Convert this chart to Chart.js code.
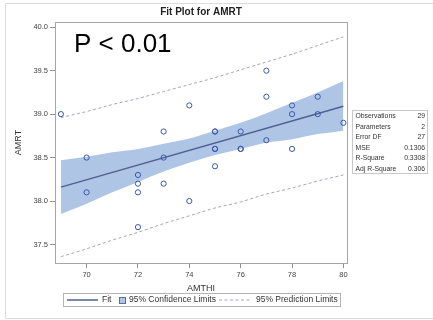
<!DOCTYPE html>
<html><head><meta charset="utf-8">
<script src="https://cdn.jsdelivr.net/npm/chart.js@4/dist/chart.umd.min.js"></script>
<style>html,body{margin:0;padding:0;background:#fff;}canvas{display:block;}</style>
</head><body>
<canvas id="c" width="433" height="320"></canvas>
<script>
// ---- data ----
const amthi = [69,70,70,72,72,72,72,73,73,73,74,74,75,75,75,75,75,76,76,76,77,77,77,78,78,78,79,79,80];
const amrt  = [39.0,38.5,38.1,38.3,38.2,38.1,37.7,38.8,38.5,38.2,39.1,38.0,38.8,38.8,38.6,38.6,38.4,38.8,38.6,38.6,39.5,39.2,38.7,39.1,39.0,38.6,39.2,39.0,38.9];

const fitX = [69, 80];
const fitY = [38.16, 39.09];

const bandX    = [69,70,71,72,73,74,75,76,77,78,79,80];
const clmUpper = [38.47,38.51,38.56,38.60,38.66,38.72,38.81,38.90,39.01,39.13,39.25,39.38];
const clmLower = [37.85,37.97,38.10,38.22,38.34,38.44,38.53,38.60,38.67,38.71,38.77,38.81];
const plmUpper = [38.96,39.03,39.11,39.18,39.26,39.34,39.42,39.51,39.60,39.69,39.79,39.89];
const plmLower = [37.36,37.45,37.55,37.64,37.74,37.83,37.92,37.99,38.08,38.15,38.23,38.30];

const xTicks = [70,72,74,76,78,80];
const yTicks = [37.5,38.0,38.5,39.0,39.5,40.0];

const titleText = "Fit Plot for AMRT";
const xTitle = "AMTHI";
const yTitle = "AMRT";
const annotation = "P < 0.01";
const statLabels = ["Observations","Parameters","Error DF","MSE","R-Square","Adj R-Square"];
const statValues = ["29","2","27","0.1306","0.3308","0.306"];
const legendLabels = ["Fit","95% Confidence Limits","95% Prediction Limits"];

// ---- styles ----
const FONT = '"Liberation Sans", Arial, sans-serif';
const markerColor = '#3A58A8';
const fitColor = '#4E6190';
const bandColor = '#AFC5E6';
const predColor = '#A0A2C8';
const frameColor = '#A6A6A6';

const pts = (xs, ys) => xs.map((x, i) => ({x: x, y: ys[i]}));

const decor = {
  id: 'decor',
  afterDraw(chart) {
    const ctx = chart.ctx;
    const a = chart.chartArea;
    ctx.save();
    // outer border
    ctx.strokeStyle = '#DCDCDC';
    ctx.lineWidth = 1;
    ctx.beginPath();
    ctx.moveTo(440, 3.5); ctx.lineTo(5.5, 3.5); ctx.lineTo(5.5, 318.5); ctx.lineTo(440, 318.5);
    ctx.stroke();
    // plot frame
    ctx.strokeStyle = frameColor;
    ctx.strokeRect(a.left + 0.5, a.top + 0.5, a.right - a.left, a.bottom - a.top);
    // title
    ctx.fillStyle = '#222';
    ctx.font = 'bold 10px ' + FONT;
    ctx.textAlign = 'center';
    ctx.textBaseline = 'middle';
    ctx.fillText(titleText, (a.left + a.right) / 2, 12.5);
    // axis titles
    ctx.fillStyle = '#333';
    ctx.font = '9px ' + FONT;
    ctx.fillText(xTitle, (a.left + a.right) / 2, 288.5);
    ctx.save();
    ctx.translate(19, (a.top + a.bottom) / 2);
    ctx.rotate(-Math.PI / 2);
    ctx.fillText(yTitle, 0, 0);
    ctx.restore();
    // annotation
    ctx.fillStyle = '#000';
    ctx.font = '26px ' + FONT;
    ctx.textAlign = 'left';
    ctx.textBaseline = 'alphabetic';
    ctx.fillText(annotation, 74, 52);
    // stats box
    ctx.fillStyle = '#fff';
    ctx.fillRect(352, 110, 75, 63);
    ctx.strokeStyle = '#C8C8C8';
    ctx.strokeRect(352.5, 110.5, 75, 63);
    ctx.fillStyle = '#333';
    ctx.font = '8px ' + FONT;
    ctx.textBaseline = 'middle';
    for (let i = 0; i < statLabels.length; i++) {
      const y = 116 + i * 10.5;
      ctx.save(); ctx.translate(355.5, y); ctx.scale(0.85, 1);
      ctx.textAlign = 'left'; ctx.fillText(statLabels[i], 0, 0); ctx.restore();
      ctx.save(); ctx.translate(425, y); ctx.scale(0.85, 1);
      ctx.textAlign = 'right'; ctx.fillText(statValues[i], 0, 0); ctx.restore();
    }
    // legend
    const ly = 300;
    ctx.strokeStyle = '#B4B4B4';
    ctx.lineWidth = 1;
    ctx.strokeRect(63.5, 293.5, 277, 13);
    ctx.strokeStyle = fitColor; ctx.lineWidth = 1.5;
    ctx.beginPath(); ctx.moveTo(67, ly); ctx.lineTo(98, ly); ctx.stroke();
    ctx.fillStyle = '#333';
    ctx.font = '8.5px ' + FONT;
    ctx.textAlign = 'left';
    ctx.fillText(legendLabels[0], 102, ly);
    ctx.fillStyle = bandColor;
    ctx.fillRect(119, 297, 6, 6);
    ctx.strokeStyle = '#5A6C9C'; ctx.lineWidth = 1;
    ctx.strokeRect(119.5, 297.5, 6, 6);
    ctx.fillStyle = '#333';
    ctx.fillText(legendLabels[1], 129, ly);
    ctx.strokeStyle = predColor; ctx.setLineDash([3, 2.5]);
    ctx.beginPath(); ctx.moveTo(219, ly); ctx.lineTo(251, ly); ctx.stroke();
    ctx.setLineDash([]);
    ctx.fillText(legendLabels[2], 256, ly);
    ctx.restore();
  }
};

new Chart(document.getElementById('c'), {
  type: 'scatter',
  data: {
    datasets: [
      {label: 'lclm', data: pts(bandX, clmLower), showLine: true, borderWidth: 0, borderColor: 'rgba(0,0,0,0)', pointRadius: 0, fill: false, cubicInterpolationMode: 'monotone', order: 5},
      {label: 'uclm', data: pts(bandX, clmUpper), showLine: true, borderWidth: 0, borderColor: 'rgba(0,0,0,0)', pointRadius: 0, fill: '-1', backgroundColor: bandColor, cubicInterpolationMode: 'monotone', order: 4},
      {label: 'lplm', data: pts(bandX, plmLower), showLine: true, borderWidth: 1, borderColor: predColor, borderDash: [3, 2.5], pointRadius: 0, fill: false, cubicInterpolationMode: 'monotone', order: 3},
      {label: 'uplm', data: pts(bandX, plmUpper), showLine: true, borderWidth: 1, borderColor: predColor, borderDash: [3, 2.5], pointRadius: 0, fill: false, cubicInterpolationMode: 'monotone', order: 2},
      {label: 'fit', data: pts(fitX, fitY), showLine: true, borderWidth: 1.5, borderColor: fitColor, pointRadius: 0, fill: false, order: 1},
      {label: 'obs', data: pts(amthi, amrt), showLine: false, pointRadius: 2.6, pointBorderWidth: 1, borderColor: markerColor, backgroundColor: 'rgba(0,0,0,0)', pointBackgroundColor: 'rgba(0,0,0,0)', order: 0}
    ]
  },
  options: {
    responsive: false,
    animation: false,
    clip: false,
    layout: {padding: {left: 0, right: 86, top: 22, bottom: 0}},
    plugins: {legend: {display: false}, tooltip: {enabled: false}, title: {display: false}},
    scales: {
      x: {
        type: 'linear', min: 68.77, max: 80.14,
        afterBuildTicks: s => { s.ticks = xTicks.map(v => ({value: v})); },
        afterFit: s => { s.height = 57; },
        ticks: {font: {size: 7.5, family: FONT}, color: '#444', padding: 2, maxRotation: 0, autoSkip: false, callback: v => String(v)},
        grid: {display: true, drawOnChartArea: false, drawTicks: true, tickLength: 5, color: '#909090'},
        border: {display: false}
      },
      y: {
        type: 'linear', min: 37.287, max: 40.06,
        afterBuildTicks: s => { s.ticks = yTicks.map(v => ({value: v})); },
        afterFit: s => { s.width = 55; },
        ticks: {font: {size: 7.5, family: FONT}, color: '#444', padding: 2, autoSkip: false, callback: v => Number(v).toFixed(1)},
        grid: {display: true, drawOnChartArea: false, drawTicks: true, tickLength: 5, color: '#909090'},
        border: {display: false}
      }
    }
  },
  plugins: [decor]
});
</script>
</body></html>
